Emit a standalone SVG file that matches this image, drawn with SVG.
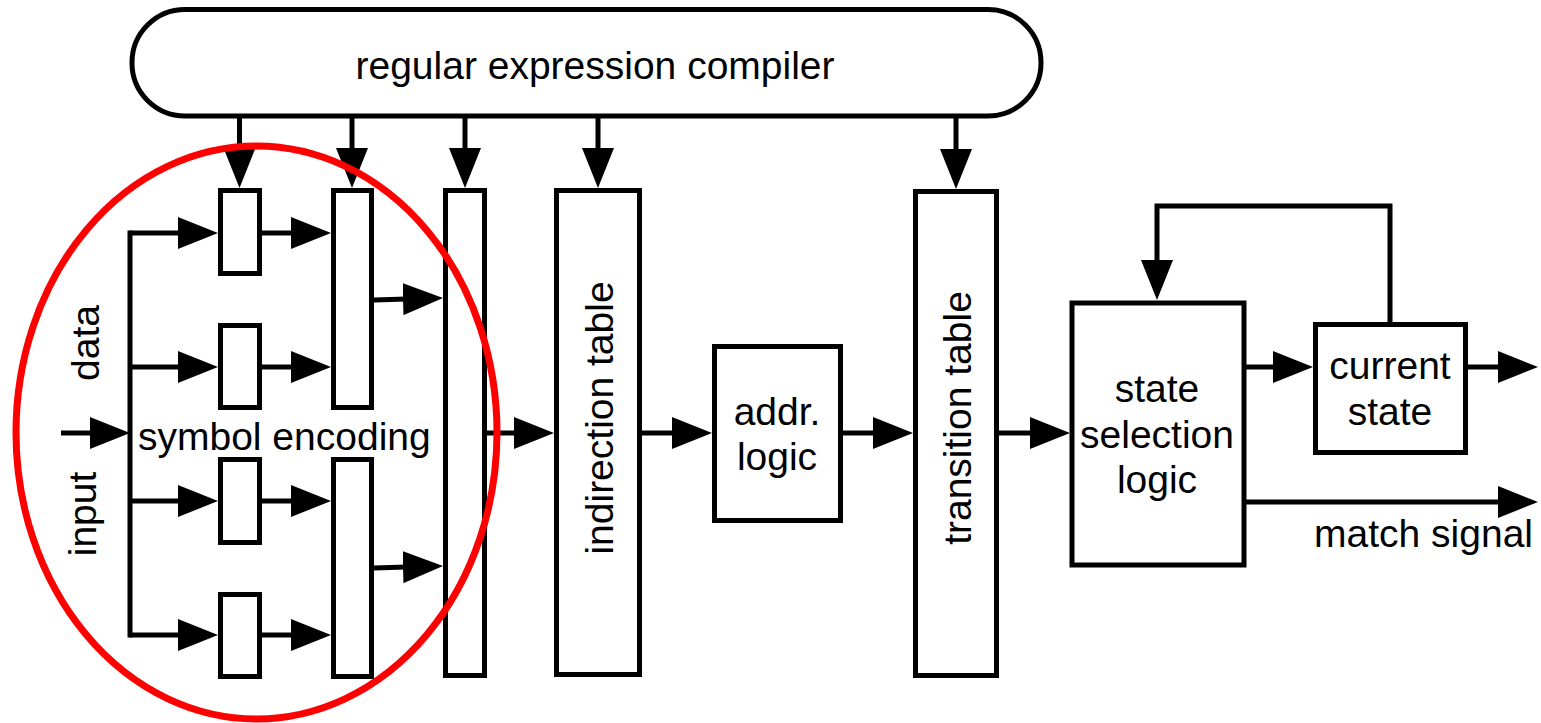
<svg xmlns="http://www.w3.org/2000/svg" width="1541" height="723" viewBox="0 0 1541 723">
<style>
.box{fill:#fff;stroke:#000;stroke-width:5}
.ln{fill:none;stroke:#000;stroke-width:5}
.t{font-family:"Liberation Sans",Arial,Helvetica,sans-serif;font-size:39px;fill:#000}
.m{text-anchor:middle}
</style>
<defs>
<marker id="ah" viewBox="0 0 40 32" markerWidth="40" markerHeight="32" markerUnits="userSpaceOnUse" refX="20" refY="16" orient="auto">
<path d="M0,0 L40,16 L0,32 Z" fill="#000"/>
</marker>
</defs>
<rect width="1541" height="723" fill="#fff"/>

<g id="connectors">
<line class="ln" x1="239.5" y1="116" x2="239.5" y2="168" marker-end="url(#ah)"/>
<line class="ln" x1="352" y1="116" x2="352" y2="168" marker-end="url(#ah)"/>
<line class="ln" x1="465" y1="116" x2="465" y2="168" marker-end="url(#ah)"/>
<line class="ln" x1="598" y1="116" x2="598" y2="168" marker-end="url(#ah)"/>
<line class="ln" x1="956" y1="116" x2="956" y2="169" marker-end="url(#ah)"/>
<line class="ln" x1="61" y1="433" x2="110" y2="433" marker-end="url(#ah)"/>
<line class="ln" x1="130" y1="230.5" x2="130" y2="637.5"/>
<line class="ln" x1="130" y1="233" x2="198" y2="233" marker-end="url(#ah)"/>
<line class="ln" x1="130" y1="367" x2="198" y2="367" marker-end="url(#ah)"/>
<line class="ln" x1="130" y1="501" x2="198" y2="501" marker-end="url(#ah)"/>
<line class="ln" x1="130" y1="635" x2="198" y2="635" marker-end="url(#ah)"/>
<line class="ln" x1="262" y1="233" x2="311" y2="233" marker-end="url(#ah)"/>
<line class="ln" x1="262" y1="367" x2="311" y2="367" marker-end="url(#ah)"/>
<line class="ln" x1="262" y1="501" x2="311" y2="501" marker-end="url(#ah)"/>
<line class="ln" x1="262" y1="635" x2="311" y2="635" marker-end="url(#ah)"/>
<line class="ln" x1="374" y1="300" x2="423" y2="298.6" marker-end="url(#ah)"/>
<line class="ln" x1="374" y1="568" x2="423" y2="566.6" marker-end="url(#ah)"/>
<line class="ln" x1="487" y1="433" x2="534" y2="433" marker-end="url(#ah)"/>
<line class="ln" x1="642" y1="433" x2="692" y2="433" marker-end="url(#ah)"/>
<line class="ln" x1="843" y1="433" x2="893" y2="433" marker-end="url(#ah)"/>
<line class="ln" x1="999" y1="433" x2="1050" y2="433" marker-end="url(#ah)"/>
<line class="ln" x1="1246" y1="367" x2="1293" y2="367" marker-end="url(#ah)"/>
<line class="ln" x1="1468" y1="367" x2="1518" y2="367" marker-end="url(#ah)"/>
<line class="ln" x1="1246" y1="502" x2="1518" y2="502" marker-end="url(#ah)"/>
<path class="ln" d="M1390,322 V206 H1157 V280" stroke-linejoin="miter" marker-end="url(#ah)"/>
</g>

<g id="compiler">
<rect class="box" x="132" y="9.5" width="909" height="106.5" rx="53" ry="53"/>
<text class="t m" x="595" y="79">regular expression compiler</text>
</g>

<g id="enc-small-1"><rect class="box" x="220.5" y="190.5" width="39" height="83"/></g>
<g id="enc-small-2"><rect class="box" x="220.5" y="325.5" width="39" height="82"/></g>
<g id="enc-small-3"><rect class="box" x="220.5" y="459.5" width="39" height="83"/></g>
<g id="enc-small-4"><rect class="box" x="220.5" y="594.5" width="39" height="82"/></g>
<g id="enc-mid-1"><rect class="box" x="333.5" y="190.5" width="38" height="217"/></g>
<g id="enc-mid-2"><rect class="box" x="333.5" y="459.5" width="38" height="217"/></g>
<g id="enc-col"><rect class="box" x="445.5" y="190.5" width="39" height="485"/></g>

<g id="labels">
<text class="t m" transform="translate(99,343) rotate(-90)">data</text>
<text class="t m" transform="translate(96,514) rotate(-90)">input</text>
<text class="t" x="138" y="450">symbol encoding</text>
</g>

<g id="indirection-table">
<rect class="box" x="556.5" y="190.5" width="83" height="484"/>
<text class="t m" transform="translate(613,418) rotate(-90)">indirection table</text>
</g>

<g id="addr-logic">
<rect class="box" x="714.5" y="346.5" width="126" height="174"/>
<text class="t m" x="777" y="425">addr.</text>
<text class="t m" x="777" y="470">logic</text>
</g>

<g id="transition-table">
<rect class="box" x="915.5" y="191.5" width="81" height="484"/>
<text class="t m" transform="translate(971,418) rotate(-90)">transition table</text>
</g>

<g id="state-selection-logic">
<rect class="box" x="1072" y="303" width="172" height="262"/>
<text class="t m" x="1157" y="402">state</text>
<text class="t m" x="1157" y="448">selection</text>
<text class="t m" x="1157" y="493">logic</text>
</g>

<g id="current-state">
<rect class="box" x="1315.5" y="324.5" width="150" height="128"/>
<text class="t m" x="1390" y="379">current</text>
<text class="t m" x="1390" y="425">state</text>
</g>

<g id="match-signal-label">
<text class="t" x="1533" y="547" text-anchor="end">match signal</text>
</g>

<g id="highlight">
<ellipse cx="256.5" cy="432.5" rx="240.5" ry="286.5" fill="none" stroke="#ff0000" stroke-width="7"/>
</g>
</svg>
